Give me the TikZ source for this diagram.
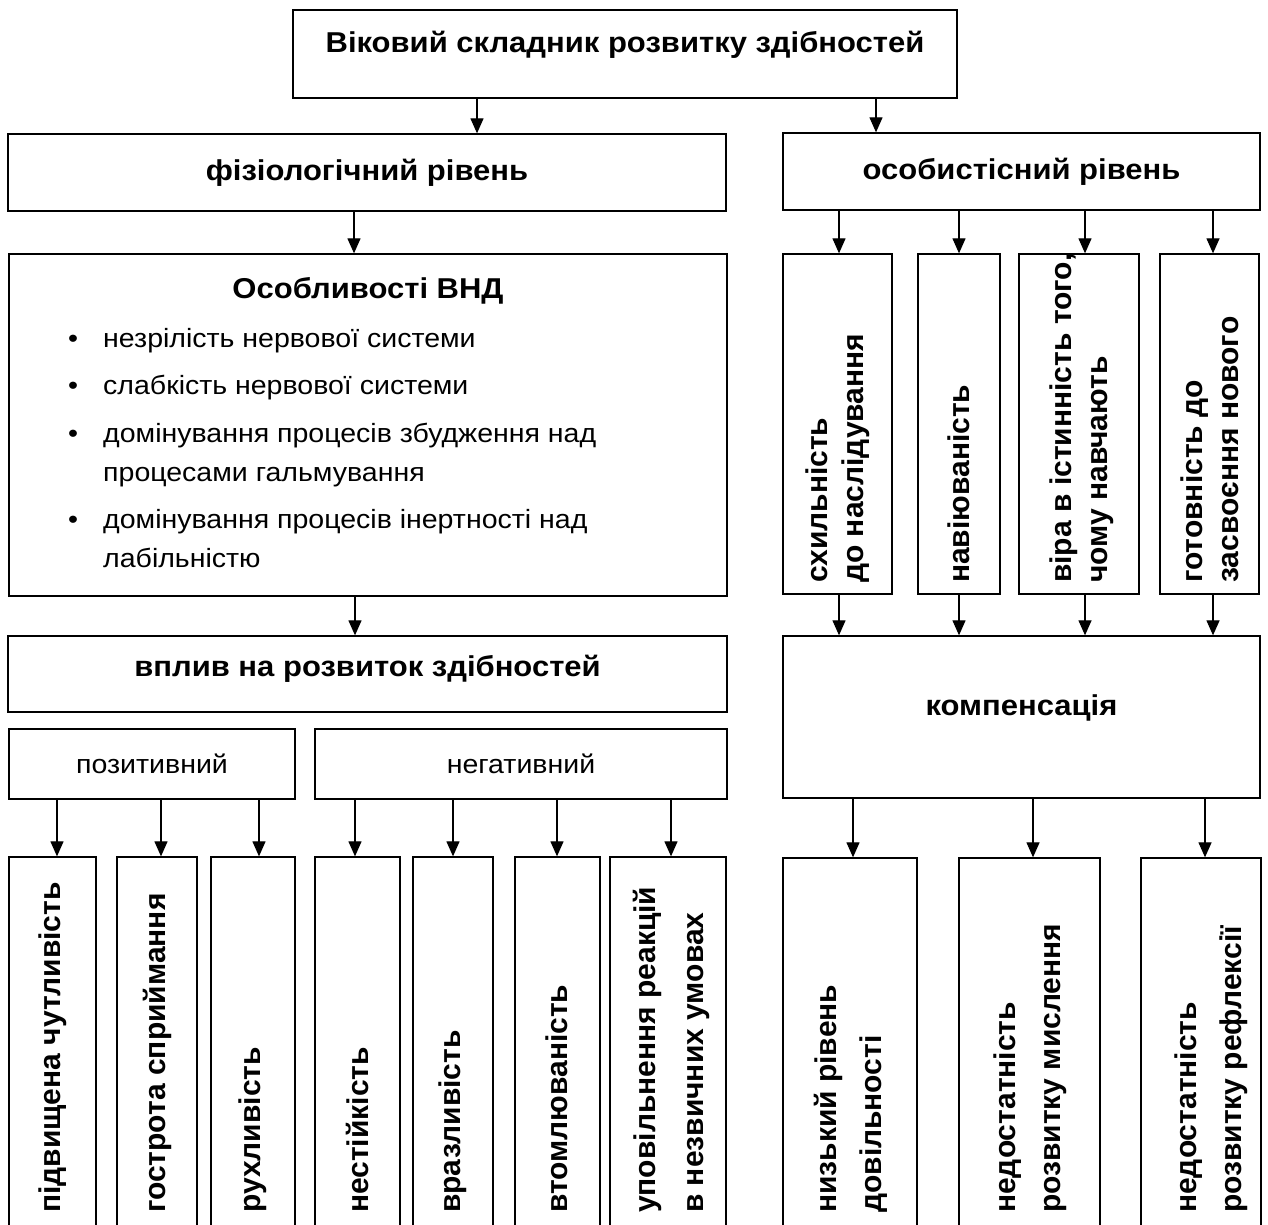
\documentclass[tikz,border=0pt]{standalone}
\usepackage{fontspec}
\setmainfont{Liberation Sans}
\newfontfamily\hfont[FakeStretch=1.08]{Liberation Sans}
\usepackage{tikz}
\usetikzlibrary{arrows.meta}
\newcommand{\hdfont}{\hfont\fontsize{28.7}{34}\selectfont\bfseries}
\newcommand{\txfont}{\hfont\fontsize{26.4}{39}\selectfont}
\newcommand{\vtfont}{\fontsize{30}{36}\selectfont\bfseries}
\newcommand{\vtwide}{\fontsize{30}{45}\selectfont\bfseries}
\begin{document}
\begin{tikzpicture}[x=1pt,y=-1pt,
    box/.style={draw,line width=1.3pt,inner sep=0pt,font=\hdfont},
    arr/.style={line width=1.2pt,-{Triangle[width=13pt,length=15pt]}},
    vlab/.style={rotate=90,anchor=west,align=left,inner sep=0pt,font=\vtfont},
    item/.style={anchor=base west,inner sep=0pt,font=\txfont},
    dot/.style={anchor=base,inner sep=0pt,font=\txfont}]
  \useasboundingbox (0,0) rectangle (1268,1225);
  \clip (0,0) rectangle (1268,1225);
  \node[box,minimum width=664pt,minimum height=88pt,text height=21pt,text depth=23pt] (vik) at (625,54) {Віковий складник розвитку здібностей};
  \node[box,minimum width=718pt,minimum height=77pt] (fiz) at (367,172.5) {фізіологічний рівень};
  \node[box,minimum width=477pt,minimum height=77pt] (osob) at (1021.5,171.5) {особистісний рівень};
  \draw[arr] (vik.south -| 477,0) -- (fiz.north -| 477,0);
  \draw[arr] (vik.south -| 876,0) -- (osob.north -| 876,0);

  \node[box,minimum width=718pt,minimum height=342pt] (vnd) at (368,425) {};
  \node[font=\hdfont,anchor=base] (vndtit) at (368,298) {Особливості ВНД};
  \node[dot] (d1) at (73,347) {\textbullet};
  \node[item] (it1) at (103,347) {незрілість нервової системи};
  \node[dot] (d2) at (73,394) {\textbullet};
  \node[item] (it2) at (103,394) {слабкість нервової системи};
  \node[dot] (d3) at (73,442) {\textbullet};
  \node[item] (it3) at (103,442) {домінування процесів збудження над};
  \node[item] (it3b) at (103,481) {процесами гальмування};
  \node[dot] (d4) at (73,528) {\textbullet};
  \node[item] (it4) at (103,528) {домінування процесів інертності над};
  \node[item] (it4b) at (103,567) {лабільністю};
  \draw[arr] (fiz.south -| 354,0) -- (vnd.north -| 354,0);

  \node[box,minimum width=719pt,minimum height=76pt,text height=21pt,text depth=17pt] (vplyv) at (367.5,674) {вплив на розвиток здібностей};
  \draw[arr] (vnd.south -| 355,0) -- (vplyv.north -| 355,0);
  \node[box,font=\txfont,minimum width=286pt,minimum height=70pt] (poz) at (152,764) {позитивний};
  \node[box,font=\txfont,minimum width=412pt,minimum height=70pt] (neg) at (521,764) {негативний};

  \node[box,minimum width=87pt,minimum height=388pt] (pidv) at (52.5,1051) {};
  \node[box,minimum width=80pt,minimum height=388pt] (gost) at (157,1051) {};
  \node[box,minimum width=84pt,minimum height=388pt] (rukh) at (253,1051) {};
  \node[box,minimum width=85pt,minimum height=388pt] (nest) at (357.5,1051) {};
  \node[box,minimum width=80pt,minimum height=388pt] (vraz) at (453,1051) {};
  \node[box,minimum width=85pt,minimum height=388pt] (vtom) at (557.5,1051) {};
  \node[box,minimum width=116pt,minimum height=388pt] (upov) at (668,1051) {};
  \node[vlab] (pidvt) at (53,1213) {підвищена чутливість};
  \node[vlab] (gostt) at (157,1213) {гострота сприймання};
  \node[vlab] (rukht) at (253,1213) {рухливість};
  \node[vlab] (nestt) at (357,1213) {нестійкість};
  \node[vlab] (vrazt) at (453,1213) {вразливість};
  \node[vlab] (vtomt) at (557,1213) {втомлюваність};
  \node[vlab,font=\fontsize{30}{48}\selectfont\bfseries] (upovt) at (671,1213) {уповільнення реакцій\\в незвичних умовах};
  \draw[arr] (poz.south -| 57,0) -- (pidv.north -| 57,0);
  \draw[arr] (poz.south -| 161,0) -- (gost.north -| 161,0);
  \draw[arr] (poz.south -| 259,0) -- (rukh.north -| 259,0);
  \draw[arr] (neg.south -| 355,0) -- (nest.north -| 355,0);
  \draw[arr] (neg.south -| 453,0) -- (vraz.north -| 453,0);
  \draw[arr] (neg.south -| 557,0) -- (vtom.north -| 557,0);
  \draw[arr] (neg.south -| 671,0) -- (upov.north -| 671,0);

  \node[box,minimum width=109pt,minimum height=340pt] (skhyl) at (837.5,424) {};
  \node[box,minimum width=82pt,minimum height=340pt] (naviu) at (959,424) {};
  \node[box,minimum width=120pt,minimum height=340pt] (vira) at (1079,424) {};
  \node[box,minimum width=99pt,minimum height=340pt] (gotov) at (1209.5,424) {};
  \node[vlab] (skhylt) at (838,583) {схильність\\до наслідування};
  \node[vlab] (naviut) at (959,583) {навіюваність};
  \node[vlab] (virat) at (1082,583) {віра в істинність того,\\чому навчають};
  \node[vlab] (gotovt) at (1210,583) {готовність до\\засвоєння нового};
  \draw[arr] (osob.south -| 839,0) -- (skhyl.north -| 839,0);
  \draw[arr] (osob.south -| 959,0) -- (naviu.north -| 959,0);
  \draw[arr] (osob.south -| 1085,0) -- (vira.north -| 1085,0);
  \draw[arr] (osob.south -| 1213,0) -- (gotov.north -| 1213,0);

  \node[box,minimum width=477pt,minimum height=162pt,text height=21pt,text depth=25pt] (komp) at (1021.5,717) {компенсація};
  \draw[arr] (skhyl.south -| 839,0) -- (komp.north -| 839,0);
  \draw[arr] (naviu.south -| 959,0) -- (komp.north -| 959,0);
  \draw[arr] (vira.south -| 1085,0) -- (komp.north -| 1085,0);
  \draw[arr] (gotov.south -| 1213,0) -- (komp.north -| 1213,0);

  \node[box,minimum width=134pt,minimum height=387pt] (nyzk) at (850,1051.5) {};
  \node[box,minimum width=141pt,minimum height=387pt] (nedm) at (1029.5,1051.5) {};
  \node[box,minimum width=120pt,minimum height=387pt] (nedr) at (1201,1051.5) {};
  \node[vlab,font=\vtwide] (nyzkt) at (851,1213) {низький рівень\\довільності};
  \node[vlab,font=\vtwide] (nedmt) at (1030,1213) {недостатність\\розвитку мислення};
  \node[vlab,font=\vtwide] (nedrt) at (1211,1213) {недостатність\\розвитку рефлексії};
  \draw[arr] (komp.south -| 853,0) -- (nyzk.north -| 853,0);
  \draw[arr] (komp.south -| 1033,0) -- (nedm.north -| 1033,0);
  \draw[arr] (komp.south -| 1205,0) -- (nedr.north -| 1205,0);
\end{tikzpicture}
\end{document}
